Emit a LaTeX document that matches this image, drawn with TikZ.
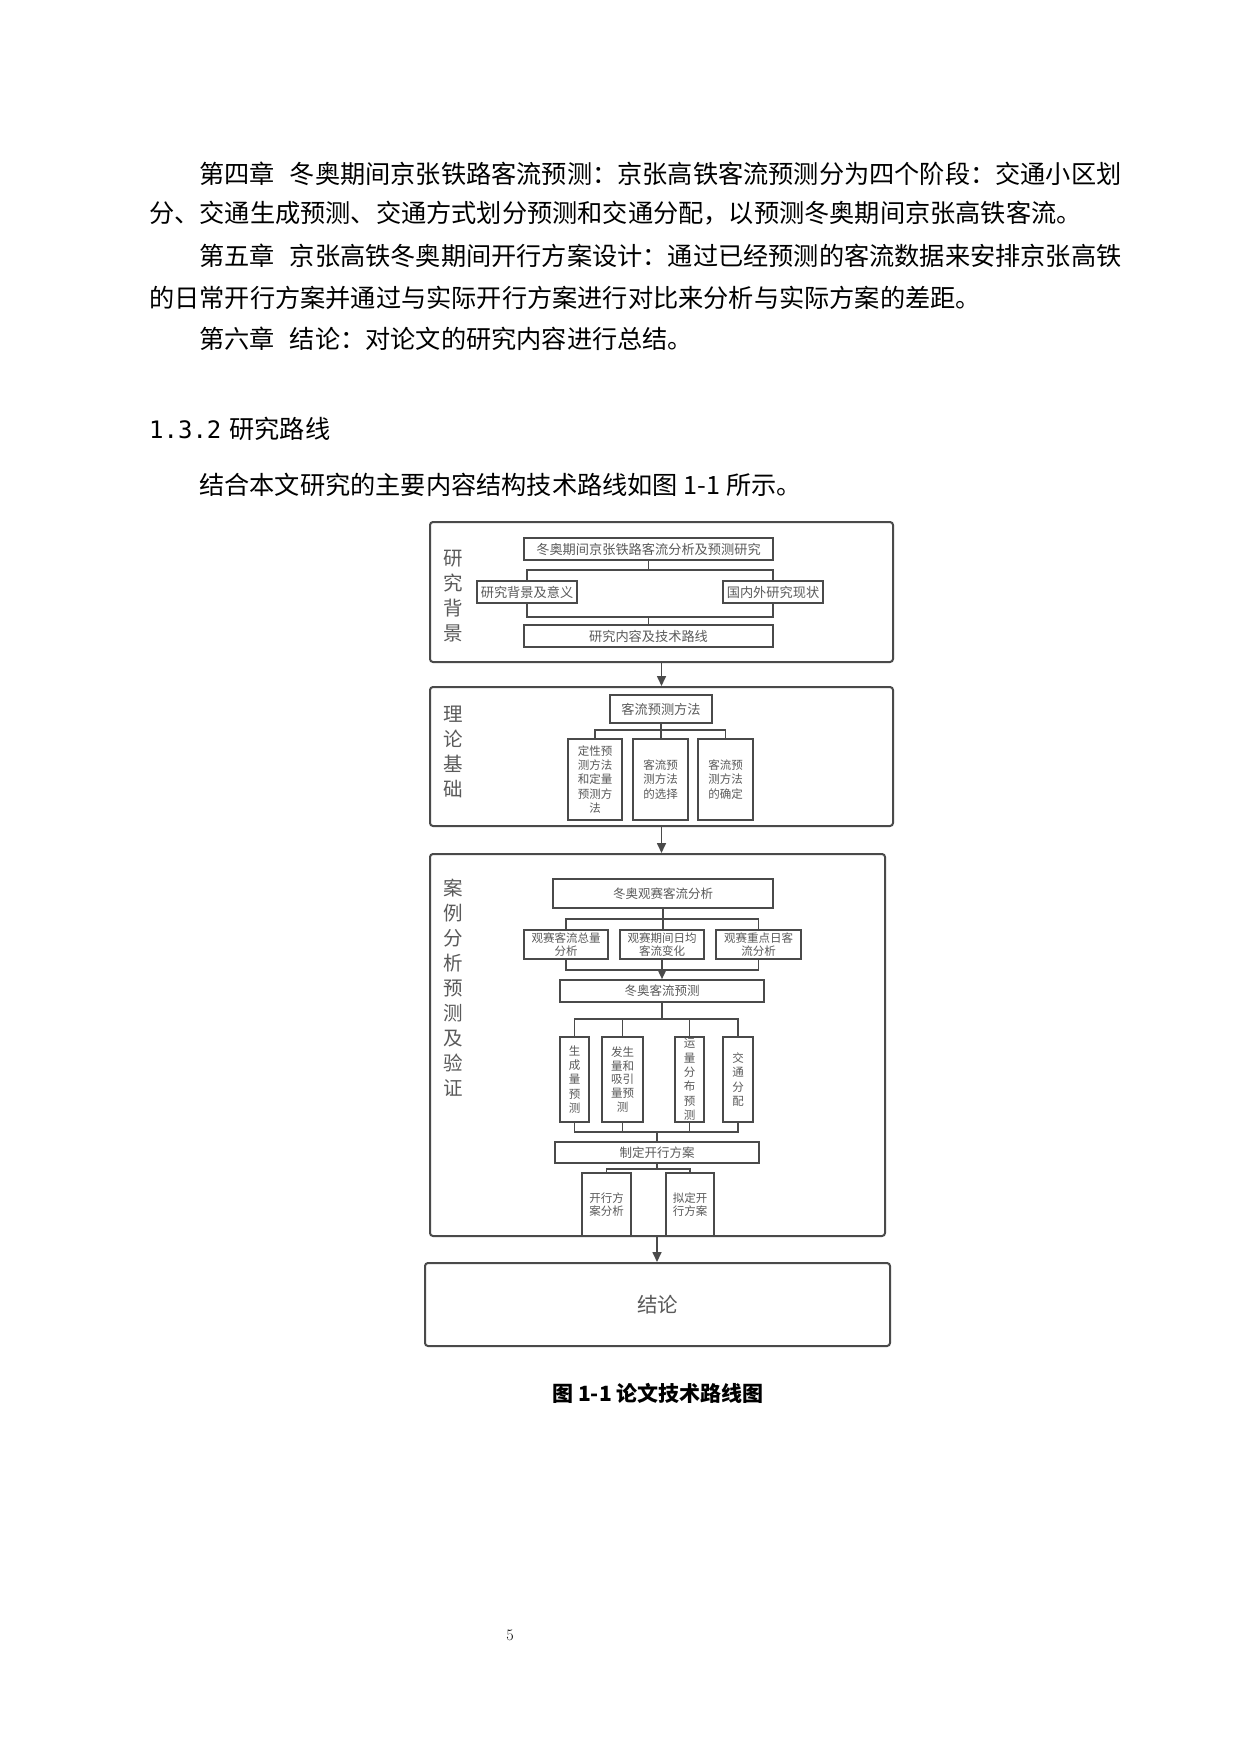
\documentclass[tikz,border=0pt]{standalone}
\usepackage{fontspec}
\newfontfamily\cjk{Noto Sans CJK SC}
\newfontfamily\monof{DejaVu Sans Mono}
\usetikzlibrary{arrows.meta}
\definecolor{linec}{HTML}{4A4A4A}
\definecolor{txtc}{HTML}{5A5A5A}
\begin{document}
\begin{tikzpicture}[x=1pt,y=-1pt,
  frm/.style={draw=linec,line width=2pt,rounded corners=3pt,inner sep=0pt},
  bx/.style={draw=linec,line width=1.7pt,inner sep=0pt,align=center,text=txtc,font=\cjk\fontsize{12.5}{14}\selectfont},
  sbx/.style={bx,font=\cjk\fontsize{11.5}{14.3}\selectfont},
  cn/.style={draw=linec,line width=1.6pt},
  arr/.style={cn,-{Triangle[length=10pt,width=9pt]}},
  body/.style={anchor=west,inner sep=0pt,font=\cjk\fontsize{25.2}{30}\selectfont},
  vlab/.style={inner sep=0pt,align=center,text=txtc,font=\cjk\fontsize{19.5}{25}\selectfont}]
\fill[white] (0,0) rectangle (1240,1754);
\useasboundingbox (0,0) rectangle (1240,1754);

% body text
\node[body] (L1) at (199,174) {第四章\hspace{0.6em}冬奥期间京张铁路客流预测：京张高铁客流预测分为四个阶段：交通小区划};
\node[body] (L2) at (149,213) {分、交通生成预测、交通方式划分预测和交通分配，以预测冬奥期间京张高铁客流。};
\node[body] (L3) at (199,256) {第五章\hspace{0.6em}京张高铁冬奥期间开行方案设计：通过已经预测的客流数据来安排京张高铁};
\node[body] (L4) at (149,298) {的日常开行方案并通过与实际开行方案进行对比来分析与实际方案的差距。};
\node[body] (L5) at (199,339) {第六章\hspace{0.6em}结论：对论文的研究内容进行总结。};
\node[body] (H1) at (149,429) {{\monof\fontsize{24}{28}\selectfont 1.3.2}\hspace{8pt}研究路线};
\node[body] (L6) at (199,485) {结合本文研究的主要内容结构技术路线如图 1-1 所示。};

% frame 1
\node[frm,minimum width=463pt,minimum height=140pt] (f1) at (661.5,592) {};
\node[vlab] (v1) at (453,596) {研\\究\\背\\景};
\node[bx,font=\cjk\fontsize{13.2}{14}\selectfont,minimum width=249pt,minimum height=22pt] (t1) at (648.5,549) {冬奥期间京张铁路客流分析及预测研究};
\node[bx,font=\cjk\fontsize{13.2}{14}\selectfont,minimum width=100pt,minimum height=22pt] (l1) at (527,592) {研究背景及意义};
\node[bx,font=\cjk\fontsize{13.2}{14}\selectfont,minimum width=100pt,minimum height=22pt] (r1) at (773,592) {国内外研究现状};
\node[bx,font=\cjk\fontsize{13.2}{14}\selectfont,minimum width=249pt,minimum height=22pt] (b1) at (648.5,636) {研究内容及技术路线};
\coordinate (j1) at (648.5,570);
\coordinate (j2) at (648.5,617);
\draw[cn] (t1.south) -- (j1);
\draw[cn] (l1.north) |- (j1) -| (r1.north);
\draw[cn] (l1.south) |- (j2) -| (r1.south);
\draw[cn] (j2) -- (b1.north);

% frame 2
\node[frm,minimum width=463pt,minimum height=139pt] (f2) at (661.5,756.5) {};
\draw[arr] (f1.south) -- (f2.north);
\node[vlab] (v2) at (453,751.5) {理\\论\\基\\础};
\node[bx,font=\cjk\fontsize{13.2}{14}\selectfont,minimum width=102pt,minimum height=28pt] (t2) at (661,709) {客流预测方法};
\node[sbx,minimum width=54pt,minimum height=81pt] (a2) at (595,779.5) {定性预\\测方法\\和定量\\预测方\\法};
\node[sbx,minimum width=55pt,minimum height=81pt] (b2) at (660.5,779.5) {客流预\\测方法\\的选择};
\node[sbx,minimum width=55pt,minimum height=81pt] (c2) at (725.5,779.5) {客流预\\测方法\\的确定};
\coordinate (j3) at (661,730);
\draw[cn] (t2.south) -- (j3);
\draw[cn] (a2.north) |- (j3) -| (c2.north);
\draw[cn] (j3) -- (j3 |- b2.north);

% frame 3
\node[frm,minimum width=455pt,minimum height=382pt] (f3) at (657.5,1045) {};
\draw[arr] (f2.south) -- (f2.south |- f3.north);
\node[vlab] (v3) at (453,988) {案\\例\\分\\析\\预\\测\\及\\验\\证};
\node[bx,minimum width=220pt,minimum height=29pt] (t3) at (663,893.5) {冬奥观赛客流分析};
\node[bx,font=\cjk\fontsize{11.5}{13.5}\selectfont,minimum width=84pt,minimum height=29pt] (p1) at (566,944.5) {观赛客流总量\\分析};
\node[bx,font=\cjk\fontsize{11.5}{13.5}\selectfont,minimum width=84pt,minimum height=29pt] (p2) at (662,944.5) {观赛期间日均\\客流变化};
\node[bx,font=\cjk\fontsize{11.5}{13.5}\selectfont,minimum width=85pt,minimum height=29pt] (p3) at (758.5,944.5) {观赛重点日客\\流分析};
\coordinate (j4) at (663,919);
\draw[cn] (t3.south) -- (j4);
\draw[cn] (p1.north) |- (j4) -| (p3.north);
\draw[cn] (j4) -- (j4 |- p2.north);
\node[bx,minimum width=204pt,minimum height=22pt] (q3) at (662,991) {冬奥客流预测};
\coordinate (j5) at (662,970);
\draw[cn] (p1.south) |- (j5) -| (p3.south);
\draw[cn] (p2.south) -- (j5);
\draw[arr] (j5) -- (q3.north);
\node[sbx,minimum width=29pt,minimum height=85pt] (s1) at (574.5,1079.5) {生\\成\\量\\预\\测};
\node[sbx,font=\cjk\fontsize{11.5}{13.8}\selectfont,minimum width=41pt,minimum height=85pt] (s2) at (622.5,1079.5) {发生\\量和\\吸引\\量预\\测};
\node[sbx,minimum width=29pt,minimum height=85pt] (s3) at (689.5,1079.5) {运\\量\\分\\布\\预\\测};
\node[sbx,minimum width=30pt,minimum height=85pt] (s4) at (738,1079.5) {交\\通\\分\\配};
\coordinate (j6) at (662,1019);
\draw[cn] (q3.south) -- (j6);
\draw[cn] (s1.north) |- (j6) -| (s4.north);
\draw[cn] (s2.north) -- (s2.north |- j6);
\draw[cn] (s3.north) -- (s3.north |- j6);
\node[bx,minimum width=204pt,minimum height=21pt] (m3) at (657,1152.5) {制定开行方案};
\coordinate (j7) at (657,1132);
\draw[cn] (s1.south) |- (j7) -| (s4.south);
\draw[cn] (s2.south) -- (s2.south |- j7);
\draw[cn] (s3.south) -- (s3.south |- j7);
\draw[cn] (j7) -- (m3.north);
\node[bx,font=\cjk\fontsize{11.5}{12.7}\selectfont,minimum width=49pt,minimum height=63pt] (k1) at (606.5,1204.5) {开行方\\案分析};
\node[bx,font=\cjk\fontsize{11.5}{12.7}\selectfont,minimum width=48pt,minimum height=63pt] (k2) at (690,1204.5) {拟定开\\行方案};
\coordinate (j8) at (657,1169);
\draw[cn] (m3.south) -- (j8);
\draw[cn] (k1.north) |- (j8) -| (k2.north);

% frame 4
\node[frm,minimum width=465pt,minimum height=83pt,text=txtc,font=\cjk\fontsize{20.5}{24}\selectfont] (f4) at (657.5,1304.5) {结论};
\draw[arr] (m3.south |- f3.south) -- (m3.south |- f4.north);

% caption and page number
\node[inner sep=0pt,font=\cjk\bfseries\fontsize{21}{24}\selectfont] (cap) at (658,1393) {图 1-1 论文技术路线图};
\node[inner sep=0pt,font=\fontsize{16}{18}\selectfont] (pg) at (510,1635) {5};
\end{tikzpicture}
\end{document}
